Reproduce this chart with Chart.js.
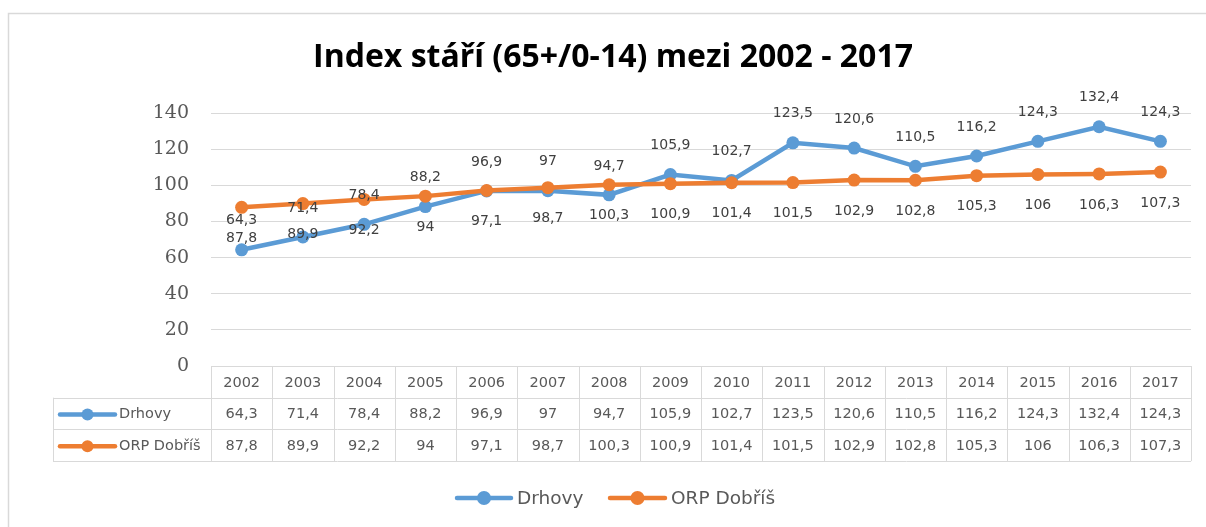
<!DOCTYPE html>
<html>
<head>
<meta charset="utf-8">
<script src="https://cdn.jsdelivr.net/npm/chart.js@4.4.1/dist/chart.umd.min.js"></script>
<style>
html,body{margin:0;padding:0;background:#fff;}
#wrap{width:1206px;height:527px;position:relative;}
</style>
</head>
<body>
<div id="wrap"><canvas id="c" width="1206" height="527"></canvas></div>
<script>
const titleText = 'Index stáří (65+/0-14) mezi 2002 - 2017';
const years = ['2002','2003','2004','2005','2006','2007','2008','2009','2010','2011','2012','2013','2014','2015','2016','2017'];
const drhovy = [64.3,71.4,78.4,88.2,96.9,97,94.7,105.9,102.7,123.5,120.6,110.5,116.2,124.3,132.4,124.3];
const orpDobris = [87.8,89.9,92.2,94,97.1,98.7,100.3,100.9,101.4,101.5,102.9,102.8,105.3,106,106.3,107.3];
const seriesNames = ['Drhovy','ORP Dobříš'];
const seriesColors = ['#5B9BD5','#ED7D31'];
const yMin = 0, yMax = 140, yStep = 20;

const fmt = v => String(v).replace('.', ',');
const GRID = '#d9d9d9';
const TXT = '#595959';

function drawKey(ctx, x1, x2, y, color, r) {
  ctx.save();
  ctx.strokeStyle = color; ctx.lineWidth = 4.5; ctx.lineCap = 'round';
  ctx.beginPath(); ctx.moveTo(x1, y); ctx.lineTo(x2, y); ctx.stroke();
  ctx.fillStyle = color;
  ctx.beginPath(); ctx.arc((x1 + x2) / 2, y, r, 0, Math.PI * 2); ctx.fill();
  ctx.restore();
}

const extras = {
  id: 'extras',
  afterDatasetsDraw(chart) {
    const ctx = chart.ctx;
    ctx.save();
    ctx.font = '14px "DejaVu Sans"';
    ctx.fillStyle = '#404040';
    ctx.textAlign = 'center';
    ctx.textBaseline = 'middle';
    const offs = [-29, 31];
    [0, 1].forEach(di => {
      const meta = chart.getDatasetMeta(di);
      const vals = chart.data.datasets[di].data;
      meta.data.forEach((pt, j) => {
        ctx.fillText(fmt(vals[j]), pt.x, pt.y + offs[di]);
      });
    });
    ctx.restore();
  },
  afterDraw(chart) {
    const ctx = chart.ctx;
    const ca = chart.chartArea;
    ctx.save();
    // outer border
    ctx.strokeStyle = GRID; ctx.lineWidth = 1.5;
    ctx.strokeRect(8.5, 13.5, 1300, 700);

    // title
    ctx.fillStyle = '#000';
    ctx.textAlign = 'center'; ctx.textBaseline = 'middle';
    let fs = 30;
    ctx.font = 'bold ' + fs + 'px "Open Sans"';
    const w = ctx.measureText(titleText).width;
    fs = Math.min(34, fs * 600 / w);
    ctx.font = 'bold ' + fs.toFixed(1) + 'px "Open Sans"';
    ctx.fillText(titleText, 613, 58);

    // data table
    const n = years.length;
    const colW = (ca.right - ca.left) / n;
    const rowH = 31.7;
    const top = ca.bottom;
    const tableLeft = 53;
    const bottom = top + rowH * 3;
    ctx.strokeStyle = GRID; ctx.lineWidth = 1;
    ctx.beginPath();
    // horizontal
    ctx.moveTo(ca.left, top + 0.5); ctx.lineTo(ca.right, top + 0.5);
    for (let r = 1; r <= 3; r++) {
      const y = Math.round(top + rowH * r) + 0.5;
      ctx.moveTo(tableLeft, y); ctx.lineTo(ca.right, y);
    }
    // vertical
    for (let k = 0; k <= n; k++) {
      const x = Math.round(ca.left + colW * k) + 0.5;
      ctx.moveTo(x, top); ctx.lineTo(x, bottom);
    }
    ctx.moveTo(tableLeft + 0.5, top + rowH); ctx.lineTo(tableLeft + 0.5, bottom);
    ctx.stroke();

    ctx.font = '14.5px "DejaVu Sans"';
    ctx.fillStyle = TXT;
    ctx.textAlign = 'center'; ctx.textBaseline = 'middle';
    const rows = [years, drhovy.map(fmt), orpDobris.map(fmt)];
    rows.forEach((row, r) => {
      const cy = top + rowH * (r + 0.5) + 1;
      row.forEach((t, k) => ctx.fillText(t, ca.left + colW * (k + 0.5), cy));
    });
    // row headers with keys
    [0, 1].forEach(i => {
      const cy = top + rowH * (i + 1.5) + 1;
      drawKey(ctx, 60, 115, cy, seriesColors[i], 6);
      ctx.fillStyle = TXT; ctx.textAlign = 'left';
      ctx.font = '14.5px "DejaVu Sans"';
      ctx.fillText(seriesNames[i], 119, cy);
    });

    // bottom legend
    const ly = 498;
    ctx.font = '18.5px "DejaVu Sans"';
    ctx.textAlign = 'left'; ctx.textBaseline = 'middle';
    drawKey(ctx, 457, 511, ly, seriesColors[0], 7);
    ctx.fillStyle = TXT; ctx.fillText(seriesNames[0], 517, ly + 1);
    drawKey(ctx, 610, 665, ly, seriesColors[1], 7);
    ctx.fillStyle = TXT; ctx.fillText(seriesNames[1], 671, ly + 1);
    ctx.restore();
  }
};

new Chart(document.getElementById('c'), {
  type: 'line',
  data: {
    labels: years,
    datasets: [
      { label: seriesNames[0], data: drhovy, borderColor: seriesColors[0], backgroundColor: seriesColors[0],
        pointBackgroundColor: seriesColors[0], pointBorderColor: seriesColors[0], borderWidth: 4.5,
        pointRadius: 6.5, pointBorderWidth: 0, tension: 0, order: 2, clip: false },
      { label: seriesNames[1], data: orpDobris, borderColor: seriesColors[1], backgroundColor: seriesColors[1],
        pointBackgroundColor: seriesColors[1], pointBorderColor: seriesColors[1], borderWidth: 4.5,
        pointRadius: 6.5, pointBorderWidth: 0, tension: 0, order: 1, clip: false }
    ]
  },
  options: {
    responsive: false,
    devicePixelRatio: 1,
    animation: false,
    layout: { padding: { top: 113, bottom: 161, left: 0, right: 15 } },
    plugins: { legend: { display: false }, tooltip: { enabled: false }, title: { display: false } },
    scales: {
      x: { type: 'category', display: false, offset: true },
      y: {
        min: yMin, max: yMax,
        ticks: { stepSize: yStep, color: TXT, font: { family: '"DejaVu Serif"', size: 19 }, padding: 22 },
        grid: { color: GRID, lineWidth: 1, drawTicks: false },
        border: { display: false },
        afterFit(s) { s.width = 211; }
      }
    }
  },
  plugins: [extras]
});
</script>
</body>
</html>
